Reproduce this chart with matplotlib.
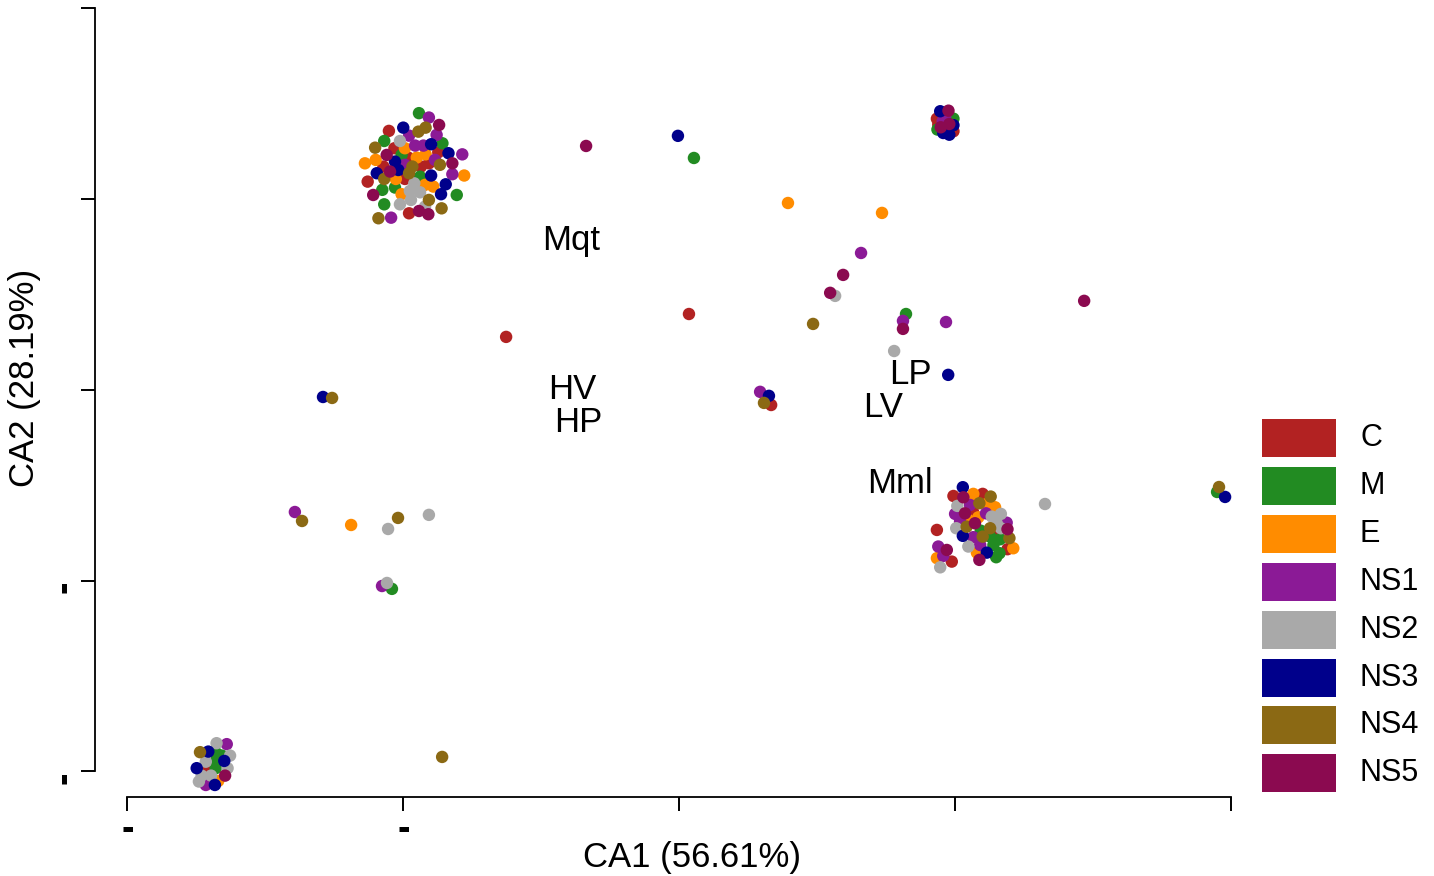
import matplotlib
matplotlib.use('Agg')
import matplotlib.pyplot as plt
from matplotlib.patches import Rectangle

plt.rcParams['font.family'] = ['Liberation Sans', 'DejaVu Sans']

groups = ['C', 'M', 'E', 'NS1', 'NS2', 'NS3', 'NS4', 'NS5']
group_colors = ['#B22222', '#228B22', '#FF8C00', '#8B1A96',
                '#A9A9A9', '#00008B', '#8B6914', '#8B0A50']

# sample scores on CA1 / CA2, one pair of lists per group
C_x = [-1.052, -1.032, -0.873, -0.982, -1.072, -0.936, -0.907, -1.129, -0.994, -0.979,
       0.995, 1.101, 1.067, 0.935, 1.154, 1.191, 0.989,
       0.935, 0.940, 0.995, 0.985,
       -1.721,
       0.036, -0.627, 0.334]
C_y = [1.358, 1.267, 1.246, 1.218, 1.171, 1.171, 1.188, 1.092, 1.106, 0.926,
       -0.556, -0.545, -0.643, -0.734, -0.751, -0.835, -0.900,
       1.422, 1.391, 1.356, 1.426,
       -1.983,
       0.398, 0.278, -0.079]

M_x = [-0.943, -1.069, -0.858, -1.006, -0.939, -1.076, -1.030, -0.806, -1.069,
       1.094, 1.128, 1.164, 1.140, 1.162, 1.150,
       0.995, 0.937,
       -1.677, -1.658, -1.680, -1.680,
       0.054, 0.823, -1.041, 1.951]
M_y = [1.451, 1.305, 1.293, 1.232, 1.118, 1.049, 1.061, 1.022, 0.973,
       -0.738, -0.769, -0.783, -0.813, -0.856, -0.877,
       1.422, 1.365,
       -1.905, -1.917, -1.945, -1.983,
       1.216, 0.398, -1.043, -0.535]

E_x = [-0.994, -0.951, -0.919, -1.139, -1.100, -0.779, -1.027, -0.921, -0.891, -1.006,
       1.067, 1.116, 1.146, 1.085, 1.049, 1.212, 1.080, 0.935,
       0.971,
       -1.671,
       0.395, 0.736, -1.189]
E_y = [1.267, 1.218, 1.235, 1.188, 1.206, 1.124, 1.106, 1.075, 1.066, 1.026,
       -0.545, -0.598, -0.615, -0.668, -0.682, -0.830, -0.853, -0.882,
       1.370,
       -2.050,
       0.980, 0.928, -0.708]

NS1_x = [-0.907, -0.979, -0.879, -0.957, -0.927, -0.786, -0.885, -0.994, -0.822, -1.044,
         1.055, 1.001, 1.113, 1.019, 1.188, 1.067, 0.940, 1.092, 0.958,
         0.965, 0.956,
         -1.640, -1.716,
         0.660, 0.812, 0.968, 0.294, -1.393, -1.077]
NS1_y = [1.428, 1.333, 1.337, 1.281, 1.281, 1.235, 1.206, 1.180, 1.131, 0.903,
         -0.603, -0.650, -0.647, -0.690, -0.696, -0.772, -0.821, -0.813, -0.870,
         1.435, 1.409,
         -1.857, -2.071,
         0.718, 0.362, 0.356, -0.010, -0.640, -1.028]

NS2_x = [-1.012, -0.960, -0.976, -0.939, -1.012, -0.972, -0.921,
         1.009, 1.134, 1.167, 1.005, 1.152, 1.167, 1.049, 0.947,
         -1.677, -1.628, -1.716, -1.637, -1.731, -1.697, -1.741,
         0.566, 0.780, -1.055, -0.907, -1.059, 1.327]
NS2_y = [1.305, 1.083, 1.043, 1.036, 0.973, 0.996, 0.961,
         -0.608, -0.664, -0.650, -0.725, -0.699, -0.725, -0.821, -0.930,
         -1.852, -1.917, -1.949, -1.983, -2.022, -2.022, -2.053,
         0.493, 0.204, -0.729, -0.655, -1.012, -0.598]

NS3_x = [-1.000, -0.899, -0.836, -1.030, -1.096, -1.018, -0.899, -0.846, -0.863,
         1.029, 1.029, 1.116,
         0.947, 0.995, 0.980, 0.958,
         -1.707, -1.649, -1.749, -1.683,
         -0.004, 0.976, 0.326, -1.291, 1.980]
NS3_y = [1.375, 1.288, 1.241, 1.197, 1.136, 1.153, 1.124, 1.078, 1.026,
         -0.510, -0.765, -0.853,
         1.461, 1.388, 1.338, 1.347,
         -1.896, -1.945, -1.983, -2.071,
         1.332, 0.079, -0.031, -0.037, -0.561]

NS4_x = [-0.945, -0.919, -1.102, -0.967, -0.867, -0.979, -1.069, -0.907, -0.861, -1.090,
         1.130, 1.089, 1.043, 1.128, 1.101, 1.198,
         -1.737,
         0.486, 0.308, -1.258, -1.367, -1.019, -0.859, 1.958]
NS4_y = [1.354, 1.375, 1.270, 1.171, 1.180, 1.136, 1.106, 0.996, 0.952, 0.900,
         -0.559, -0.594, -0.717, -0.725, -0.769, -0.777,
         -1.899,
         0.346, -0.068, -0.042, -0.687, -0.671, -1.924, -0.509]

NS5_x = [-0.870, -1.060, -0.822, -1.048, -1.109, -0.943, -0.909,
         1.031, 1.037, 1.073, 1.191, 0.971, 1.089,
         0.977, 0.949, 0.980,
         -1.646,
         -0.337, 0.595, 0.548, 0.812, 1.469]
NS5_y = [1.389, 1.232, 1.188, 1.145, 1.022, 0.938, 0.921,
         -0.563, -0.647, -0.699, -0.730, -0.839, -0.891,
         1.464, 1.377, 1.394,
         -2.022,
         1.279, 0.603, 0.509, 0.320, 0.467]

group_x = [C_x, M_x, E_x, NS1_x, NS2_x, NS3_x, NS4_x, NS5_x]
group_y = [C_y, M_y, E_y, NS1_y, NS2_y, NS3_y, NS4_y, NS5_y]

# column (variable) labels
var_names = ['Mqt', 'HV', 'HP', 'LP', 'LV', 'Mml']
var_x = [-0.392, -0.388, -0.366, 0.838, 0.740, 0.801]
var_y = [0.781, 0.000, -0.173, 0.079, -0.094, -0.493]

tick_vals = [-2, -1, 0, 1, 2]
tick_text = ['-', '-', '', '', '']

fig = plt.figure(figsize=(14.34, 8.76), dpi=100)
ax = fig.add_axes([0.0662, 0.0902, 0.7985, 0.9041])

for xs, ys, col in zip(group_x, group_y, group_colors):
    ax.scatter(xs, ys, s=80, c=col, edgecolors='none', zorder=3)

for name, x, y in zip(var_names, var_x, var_y):
    ax.text(x, y, name, fontsize=25, ha='center', va='center', zorder=4)

ax.set_xlim(-2.118, 2.034)
ax.set_ylim(-2.134, 2.018)

for side in ['top', 'right']:
    ax.spines[side].set_visible(False)
ax.spines['left'].set_bounds(-2, 2)
ax.spines['bottom'].set_bounds(-2, 2)
ax.spines['left'].set_linewidth(1.3)
ax.spines['bottom'].set_linewidth(1.3)

ax.set_xticks(tick_vals)
ax.set_xticklabels(tick_text, fontsize=27, fontweight='bold')
ax.set_yticks(tick_vals)
ax.set_yticklabels(tick_text, fontsize=27, fontweight='bold', rotation=90, va='top')
ax.tick_params(length=10, width=1.4)
ax.tick_params(axis='x', pad=1)
ax.tick_params(axis='y', pad=-1)

ax.set_xlabel('CA1 (56.61%)', fontsize=25)
ax.xaxis.set_label_coords(0.521, -0.055)
ax.set_ylabel('CA2 (28.19%)', fontsize=25)
ax.yaxis.set_label_coords(-0.047, 0.529)

# legend drawn as colour blocks on an overlay in pixel units
lg = fig.add_axes([0, 0, 1, 1])
lg.set_xlim(0, 1434)
lg.set_ylim(876, 0)
lg.axis('off')
lg.patch.set_alpha(0)
for i, (name, col) in enumerate(zip(groups, group_colors)):
    cy = 438 + i * 47.9
    lg.add_patch(Rectangle((1262, cy - 19), 74, 38, facecolor=col, edgecolor='none'))
    lg.text(1360, cy, name, fontsize=22, ha='left', va='center')

fig.savefig('out.png', dpi=100)
